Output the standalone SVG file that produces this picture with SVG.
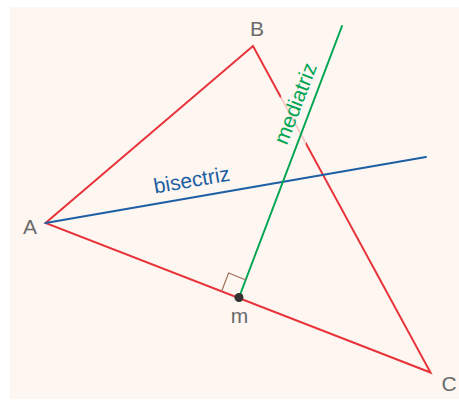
<svg xmlns="http://www.w3.org/2000/svg" width="459" height="400" viewBox="0 0 459 400">
<defs>
<style>
.lbl{font-family:"Liberation Sans",Arial,sans-serif;font-size:21px;fill:#6b6b6b;text-anchor:middle}
.edge{fill:none;stroke-width:2;stroke-linecap:round;stroke-linejoin:miter}
</style>
</defs>
<rect x="10" y="7" width="449" height="392" fill="#fdf6f1"/>
<g id="connectors">
<polygon id="triangle" class="edge" points="45.5,223 253,46 430.5,372.5" stroke="#e8333a"/>
<line id="bisectriz-line" class="edge" x1="45.5" y1="223" x2="426" y2="157" stroke="#1d5fa3"/>
<rect x="-46" y="-23" width="92" height="40" fill="#fdf6f1" opacity="0.78" transform="translate(302,106) rotate(-69)"/>
<line id="mediatriz-line" class="edge" x1="239" y1="297.5" x2="342" y2="26" stroke="#00a651"/>
<polyline id="right-angle" points="221.8,290.7 228.6,273 246,280" fill="none" stroke="#a0705c" stroke-width="1.2"/>
</g>
<g id="label-bisectriz"><text x="193" y="187" transform="rotate(-9.85 193 187)" style="font-family:'Liberation Sans',Arial,sans-serif;font-size:21px;fill:#1d5fa3;text-anchor:middle">bisectriz</text></g>
<g id="label-mediatriz"><text x="302" y="106" transform="rotate(-69 302 106)" style="font-family:'Liberation Sans',Arial,sans-serif;font-size:21px;fill:#00a651;text-anchor:middle">mediatriz</text></g>
<g id="node-A"><text class="lbl" x="30" y="234">A</text></g>
<g id="node-B"><text class="lbl" x="257" y="36">B</text></g>
<g id="node-C"><text class="lbl" x="449" y="391">C</text></g>
<g id="node-m"><circle cx="239" cy="297.5" r="4.5" fill="#333333"/><text class="lbl" x="239.5" y="323">m</text></g>
</svg>
